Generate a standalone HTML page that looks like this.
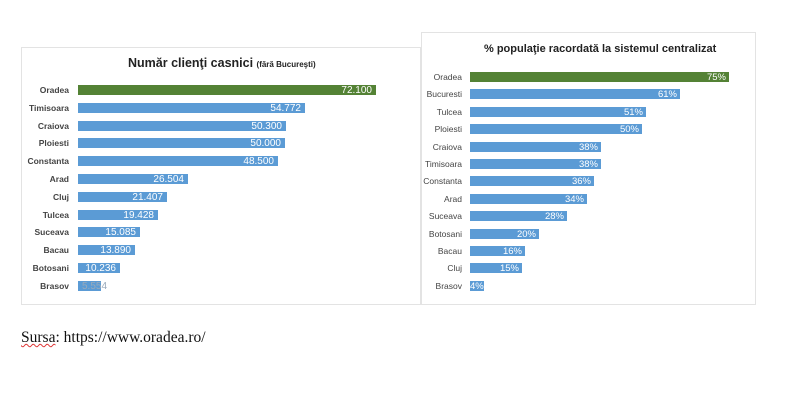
<!DOCTYPE html>
<html><head><meta charset="utf-8"><style>
body{margin:0;width:800px;height:404px;background:#fff;position:relative;overflow:hidden;font-family:"Liberation Sans",sans-serif}
.p{position:absolute;border:1px solid #e3e3e3;box-sizing:border-box}
.t{position:absolute;font-weight:bold;color:#222;white-space:nowrap}
.l{position:absolute;text-align:right;font-size:8.5px;color:#444;height:10px;line-height:11px}
.b{position:absolute;height:10px;background:#5b9bd5;color:#fff;font-size:10px;line-height:12px;text-align:right;box-sizing:border-box;padding-right:4px;white-space:nowrap;overflow:visible}
.g{background:#548235}
.L .l{left:10px;width:59px;font-weight:bold}
.L .b{left:78px}
.R .l{left:420px;width:42px}
.R .b{left:470px;padding-right:3px;font-size:9.5px}
</style></head><body>
<div class="p" style="left:21px;top:47px;width:400px;height:258px"></div>
<div class="p" style="left:421px;top:32px;width:335px;height:273px"></div>
<div class="t" style="left:128px;top:56px;font-size:12.5px">Număr clienţi casnici <span style="font-size:8px">(fără Bucureşti)</span></div>
<div class="t" style="left:484px;top:43px;font-size:11px">% populaţie racordată la sistemul centralizat</div>
<div class="L">
<div class="l" style="top:85px">Oradea</div><div class="b g" style="top:85px;width:298px">72.100</div>
<div class="l" style="top:103px">Timisoara</div><div class="b" style="top:103px;width:227px">54.772</div>
<div class="l" style="top:121px">Craiova</div><div class="b" style="top:121px;width:208px">50.300</div>
<div class="l" style="top:138px">Ploiesti</div><div class="b" style="top:138px;width:207px">50.000</div>
<div class="l" style="top:156px">Constanta</div><div class="b" style="top:156px;width:200px">48.500</div>
<div class="l" style="top:174px">Arad</div><div class="b" style="top:174px;width:110px">26.504</div>
<div class="l" style="top:192px">Cluj</div><div class="b" style="top:192px;width:89px">21.407</div>
<div class="l" style="top:210px">Tulcea</div><div class="b" style="top:210px;width:80px">19.428</div>
<div class="l" style="top:227px">Suceava</div><div class="b" style="top:227px;width:62px">15.085</div>
<div class="l" style="top:245px">Bacau</div><div class="b" style="top:245px;width:57px">13.890</div>
<div class="l" style="top:263px">Botosani</div><div class="b" style="top:263px;width:42px">10.236</div>
<div class="l" style="top:281px">Brasov</div><div class="b" style="top:281px;width:23px;padding:0"><span style="position:absolute;left:4px;color:#9ab">5.554</span></div>
</div>
<div class="R">
<div class="l" style="top:72px">Oradea</div><div class="b g" style="top:72px;width:259px">75%</div>
<div class="l" style="top:89px">Bucuresti</div><div class="b" style="top:89px;width:210px">61%</div>
<div class="l" style="top:107px">Tulcea</div><div class="b" style="top:107px;width:176px">51%</div>
<div class="l" style="top:124px">Ploiesti</div><div class="b" style="top:124px;width:172px">50%</div>
<div class="l" style="top:142px">Craiova</div><div class="b" style="top:142px;width:131px">38%</div>
<div class="l" style="top:159px">Timisoara</div><div class="b" style="top:159px;width:131px">38%</div>
<div class="l" style="top:176px">Constanta</div><div class="b" style="top:176px;width:124px">36%</div>
<div class="l" style="top:194px">Arad</div><div class="b" style="top:194px;width:117px">34%</div>
<div class="l" style="top:211px">Suceava</div><div class="b" style="top:211px;width:97px">28%</div>
<div class="l" style="top:229px">Botosani</div><div class="b" style="top:229px;width:69px">20%</div>
<div class="l" style="top:246px">Bacau</div><div class="b" style="top:246px;width:55px">16%</div>
<div class="l" style="top:263px">Cluj</div><div class="b" style="top:263px;width:52px">15%</div>
<div class="l" style="top:281px">Brasov</div><div class="b" style="top:281px;width:14px;padding-right:1px">4%</div>
</div>
<div style="position:absolute;left:21px;top:329px;font-family:'Liberation Serif',serif;font-size:15.5px;color:#111;white-space:nowrap"><span style="text-decoration:underline wavy #d33;text-decoration-thickness:1px">Sursa</span>: https://www.oradea.ro/</div>
</body></html>
